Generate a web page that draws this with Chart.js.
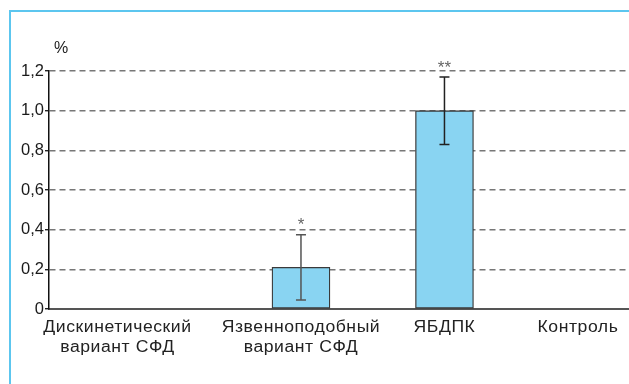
<!DOCTYPE html>
<html>
<head>
<meta charset="utf-8">
<script src="https://cdn.jsdelivr.net/npm/chart.js@4/dist/chart.umd.min.js"></script>
<style>
  html, body { margin: 0; padding: 0; background: #fff; }
  #wrap { position: relative; width: 629px; height: 384px; overflow: hidden; }
  #frame { position: absolute; left: 9px; top: 10px; width: 700px; height: 500px;
           border-top: 2px solid #5cc6ef; border-left: 2px solid #5cc6ef; }
  canvas { position: absolute; left: 0; top: 0; }
</style>
</head>
<body>
<div id="wrap">
  <div id="frame"></div>
  <canvas id="c" width="629" height="384"></canvas>
</div>
<script>
// Groups along the horizontal axis
const categories = [
  ['Дискинетический', 'вариант СФД'],
  ['Язвенноподобный', 'вариант СФД'],
  ['ЯБДПК'],
  ['Контроль']
];
// Mean share, % (no bar drawn where null)
const means = [null, 0.21, 1.0, null];
// Spread shown as whiskers
const errors = [null, 0.165, 0.17, null];
// Significance marks above whiskers
const marks = ['', '*', '**', ''];
// Y axis tick values
const yTicks = [0, 0.2, 0.4, 0.6, 0.8, 1.0, 1.2];

// horizontal nudge of each group caption, px
const labelNudge = [-40, 0, 0, -10];

const FONT = '"Liberation Sans", Arial, Helvetica, sans-serif';
const fmt = v => (v === 0 ? '0' : v.toFixed(1).replace('.', ','));

const overlay = {
  id: 'overlay',
  afterDatasetsDraw(chart) {
    const { ctx, scales: { x, y }, chartArea } = chart;
    ctx.save();
    // whiskers
    means.forEach((m, i) => {
      if (m == null) return;
      const px = x.getPixelForValue(i);
      const top = y.getPixelForValue(m + errors[i]);
      const bot = y.getPixelForValue(m - errors[i]);
      ctx.strokeStyle = i === 1 ? '#555' : '#222';
      ctx.lineWidth = 1.5;
      ctx.beginPath();
      ctx.moveTo(px, top); ctx.lineTo(px, bot);
      ctx.moveTo(px - 5, top); ctx.lineTo(px + 5, top);
      ctx.moveTo(px - 5, bot); ctx.lineTo(px + 5, bot);
      ctx.stroke();
      // significance mark
      ctx.fillStyle = '#666';
      ctx.font = '17px ' + FONT;
      ctx.textAlign = 'center';
      ctx.textBaseline = 'middle';
      ctx.fillText(marks[i], px, top - 9);
    });
    // group captions, set in a slightly extended face
    ctx.fillStyle = '#222';
    ctx.font = '16px ' + FONT;
    ctx.letterSpacing = '0.5px';
    ctx.textAlign = 'center';
    ctx.textBaseline = 'alphabetic';
    const sx = 1.1;
    categories.forEach((lines, i) => {
      const px = x.getPixelForValue(i) + labelNudge[i];
      lines.forEach((t, k) => {
        ctx.save();
        ctx.translate(px, chartArea.bottom + 22.5 + k * 20);
        ctx.scale(sx, 1);
        ctx.fillText(t, 0, 0);
        ctx.restore();
      });
    });
    ctx.letterSpacing = '0px';
    // unit label
    ctx.textAlign = 'left';
    ctx.textBaseline = 'middle';
    ctx.fillText('%', chartArea.left + 5, chartArea.top - 22);
    ctx.restore();
  }
};

new Chart(document.getElementById('c'), {
  type: 'bar',
  data: {
    datasets: [{
      data: means.map((v, i) => ({ x: i, y: v })),
      backgroundColor: '#89d4f2',
      borderColor: '#3a3a3a',
      borderWidth: 1.3,
      borderSkipped: false,
      barThickness: 58
    }]
  },
  options: {
    responsive: false,
    animation: false,
    devicePixelRatio: 1,
    layout: { padding: { top: 71, right: 0, left: 0, bottom: 0 } },
    plugins: { legend: { display: false }, tooltip: { enabled: false } },
    scales: {
      x: {
        type: 'linear',
        offset: false,
        min: -0.756,
        max: 3.286,
        afterBuildTicks: s => { s.ticks = categories.map((_, i) => ({ value: i })); },
        afterFit: s => { s.height = 75; },
        ticks: { display: false },
        grid: { display: false, drawTicks: false, offset: false },
        border: { display: true, color: '#555', width: 2 }
      },
      y: {
        min: 0,
        max: 1.2,
        afterBuildTicks: s => { s.ticks = yTicks.map(v => ({ value: v })); },
        afterFit: s => { s.width = 49; },
        ticks: {
          callback: v => fmt(v),
          color: '#1a1a1a',
          font: { family: FONT, size: 16.5 },
          padding: 1
        },
        grid: {
          color: c => (c.tick && c.tick.value === 0 ? 'rgba(0,0,0,0)' : '#777'),
          lineWidth: 1.4,
          tickLength: 4,
          tickColor: '#222',
          tickBorderDash: []
        },
        border: { display: true, color: '#111', width: 1.5, dash: [6, 4] }
      }
    }
  },
  plugins: [overlay]
});
</script>
</body>
</html>
